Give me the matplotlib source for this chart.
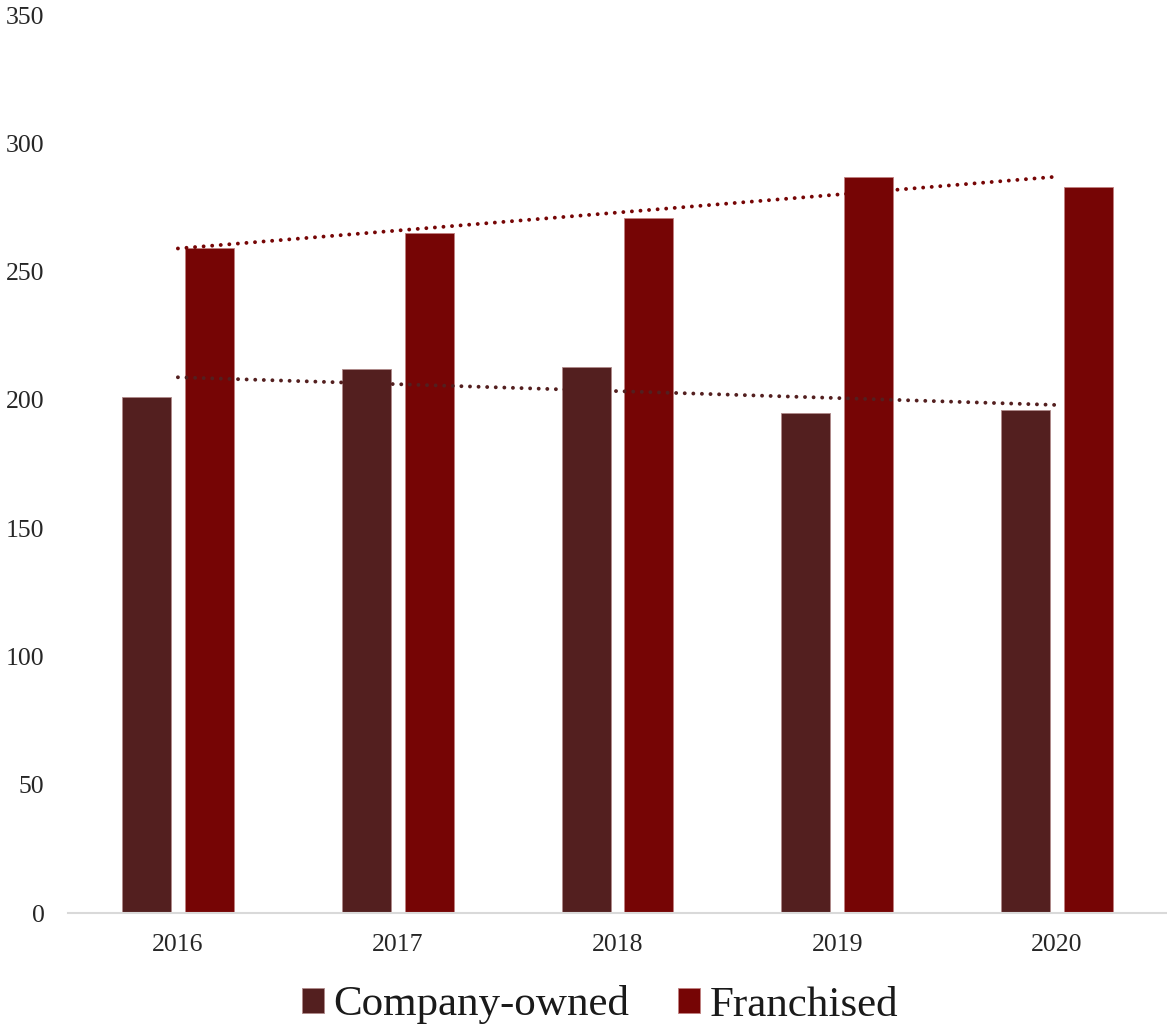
import matplotlib
matplotlib.use("Agg")
import matplotlib.pyplot as plt
import numpy as np

years = ["2016", "2017", "2018", "2019", "2020"]
company_owned = [201, 212, 213, 195, 196]
franchised = [259, 265, 271, 287, 283]
yticks = [0, 50, 100, 150, 200, 250, 300, 350]

c_col = "#531F1F"
f_col = "#760505"

fig = plt.figure(figsize=(11.67, 10.27), dpi=100)
ax = fig.add_axes([68/1167, 1 - 913/1027, 1099/1167, (913-15)/1027])

x = np.arange(len(years))
w = 0.223
off = 0.143
ax.bar(x - off, company_owned, w, color=c_col, edgecolor="#b08a8a", linewidth=0.6, label="Company-owned", zorder=2)
ax.bar(x + off, franchised, w, color=f_col, edgecolor="#c08080", linewidth=0.6, label="Franchised", zorder=2)

for vals, col in [(company_owned, c_col), (franchised, f_col)]:
    k, b = np.polyfit(x, vals, 1)
    ax.plot(x, k * x + b, linestyle=(0, (0.01, 2.2)), color=col, linewidth=2.8,
            dash_capstyle="round", solid_capstyle="round", zorder=3)

ax.set_xlim(-0.5, 4.5)
ax.set_ylim(0, 350)
ax.set_yticks(yticks)
ax.set_xticks(x)
ax.set_xticklabels(years)
for s in ["top", "right", "left"]:
    ax.spines[s].set_visible(False)
ax.spines["bottom"].set_color("#d9d9d9")
ax.spines["bottom"].set_linewidth(1.5)
ax.tick_params(axis="both", length=0, labelsize=18.5, colors="#262626")
ax.tick_params(axis="y", pad=17)
ax.tick_params(axis="x", pad=15)
for lab in ax.get_xticklabels() + ax.get_yticklabels():
    lab.set_family(["Liberation Serif", "DejaVu Serif"])
    lab.set_color("#262626")

leg = fig.legend(loc="center", bbox_to_anchor=(600/1167, 1 - 1005/1027), ncol=2,
                 frameon=False, prop={"family": ["Liberation Serif"], "size": 31},
                 handlelength=0.51, handleheight=0.51, handletextpad=0.21, columnspacing=1.15)
for t in leg.get_texts():
    t.set_color("#1a1a1a")

fig.savefig("out.png", dpi=100)
